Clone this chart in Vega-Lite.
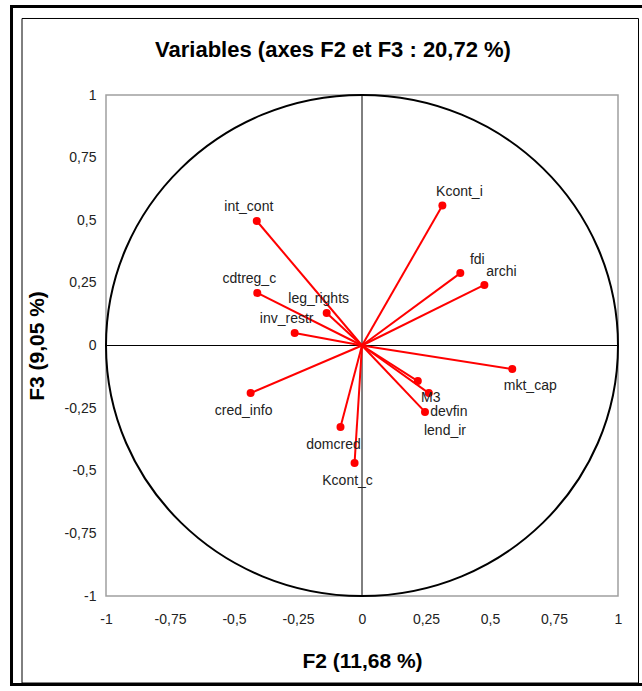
{
  "$schema": "https://vega.github.io/schema/vega-lite/v6.json",
  "width": 512,
  "height": 501,
  "autosize": {"type": "none"},
  "padding": {"left": 106, "top": 95, "right": 24, "bottom": 95},
  "background": "white",
  "title": {
    "text": "Variables (axes F2 et F3 : 20,72 %)",
    "font": "Liberation Sans",
    "fontSize": 22,
    "fontWeight": "bold",
    "color": "black",
    "anchor": "middle",
    "frame": "group",
    "dx": -29,
    "offset": -61
  },
  "config": {
    "view": {"stroke": "#a0a0a0", "strokeWidth": 1.5},
    "axis": {
      "domain": false,
      "ticks": false,
      "grid": false,
      "labelFont": "Liberation Sans",
      "labelFontSize": 14,
      "labelColor": "#222",
      "labelFlush": false,
      "labelOverlap": false,
      "labelBound": false,
      "titleFont": "Liberation Sans",
      "titleFontSize": 21,
      "titleFontWeight": "bold",
      "titleColor": "black"
    }
  },
  "datasets": {
    "vars": [
      {"name": "Kcont_i", "x": 0.314, "y": 0.559},
      {"name": "fdi", "x": 0.384, "y": 0.289},
      {"name": "archi", "x": 0.478, "y": 0.242},
      {"name": "mkt_cap", "x": 0.587, "y": -0.094},
      {"name": "M3", "x": 0.218, "y": -0.142},
      {"name": "devfin", "x": 0.261, "y": -0.19},
      {"name": "lend_ir", "x": 0.246, "y": -0.265},
      {"name": "int_cont", "x": -0.411, "y": 0.497},
      {"name": "cdtreg_c", "x": -0.409, "y": 0.21},
      {"name": "leg_rights", "x": -0.138, "y": 0.13},
      {"name": "inv_restr", "x": -0.263, "y": 0.05},
      {"name": "cred_info", "x": -0.435, "y": -0.19},
      {"name": "domcred", "x": -0.084, "y": -0.325},
      {"name": "Kcont_c", "x": -0.029, "y": -0.469}
    ],
    "ticks": [
      {"v": -0.75}, {"v": -0.5}, {"v": -0.25}, {"v": 0.25}, {"v": 0.5}, {"v": 0.75}
    ]
  },
  "data": {"name": "vars"},
  "encoding": {
    "x": {"field": "x", "type": "quantitative", "scale": {"domain": [-1, 1], "nice": false, "zero": false},
      "axis": {"values": [-1, -0.75, -0.5, -0.25, 0, 0.25, 0.5, 0.75, 1], "labelExpr": "replace(toString(datum.value), '.', ',')", "labelPadding": 16, "title": "F2 (11,68 %)", "titlePadding": 24}},
    "y": {"field": "y", "type": "quantitative", "scale": {"domain": [-1, 1], "nice": false, "zero": false},
      "axis": {"values": [-1, -0.75, -0.5, -0.25, 0, 0.25, 0.5, 0.75, 1], "labelExpr": "replace(toString(datum.value), '.', ',')", "labelPadding": 10, "title": "F3 (9,05 %)", "titlePadding": 17}}
  },
  "layer": [
    {
      "transform": [{"filter": "datum.name == 'Kcont_i'"}],
      "mark": {
        "type": "point",
        "filled": false,
        "stroke": "black",
        "strokeWidth": 3,
        "opacity": 1,
        "size": 401322,
        "clip": false,
        "shape": "M-1,-1.0702L1,-1.0702L1,1.0702L-1,1.0702Z"
      },
      "encoding": {
        "x": {"datum": -0.1318, "type": "quantitative"},
        "y": {"datum": 0, "type": "quantitative"}
      }
    },
    {
      "transform": [{"filter": "datum.name == 'Kcont_i'"}],
      "mark": {
        "type": "point",
        "filled": false,
        "stroke": "black",
        "strokeWidth": 1,
        "opacity": 1,
        "size": 380072,
        "clip": false,
        "shape": "M-1,-1.0779L1,-1.0779L1,1.0779L-1,1.0779Z"
      },
      "encoding": {
        "x": {"datum": -0.124, "type": "quantitative"},
        "y": {"datum": -0.021, "type": "quantitative"}
      }
    },
    {
      "transform": [{"filter": "datum.name == 'Kcont_i'"}],
      "mark": {
        "type": "point",
        "filled": false,
        "stroke": "black",
        "strokeWidth": 2,
        "opacity": 1,
        "size": 262144,
        "shape": "M1,0C1,0.5404,0.5523,0.9785,0,0.9785C-0.5523,0.9785,-1,0.5404,-1,0C-1,-0.5404,-0.5523,-0.9785,0,-0.9785C0.5523,-0.9785,1,-0.5404,1,0Z"
      },
      "encoding": {
        "x": {"datum": 0, "type": "quantitative"},
        "y": {"datum": 0, "type": "quantitative"}
      }
    },
    {
      "transform": [{"filter": "datum.name == 'Kcont_i'"}],
      "mark": {"type": "rule", "color": "black", "strokeWidth": 1},
      "encoding": {
        "x": null,
        "y": {"datum": 0, "type": "quantitative"}
      }
    },
    {
      "transform": [{"filter": "datum.name == 'Kcont_i'"}],
      "mark": {"type": "rule", "color": "black", "strokeWidth": 1},
      "encoding": {
        "x": {"datum": 0, "type": "quantitative"},
        "y": null
      }
    },
    {
      "data": {"name": "ticks"},
      "mark": {"type": "tick", "orient": "vertical", "color": "black", "size": 9, "thickness": 1, "opacity": 1},
      "encoding": {
        "x": {"field": "v", "type": "quantitative"},
        "y": {"datum": 0, "type": "quantitative"}
      }
    },
    {
      "data": {"name": "ticks"},
      "mark": {"type": "tick", "orient": "horizontal", "color": "black", "size": 9, "thickness": 1, "opacity": 1},
      "encoding": {
        "y": {"field": "v", "type": "quantitative"},
        "x": {"datum": 0, "type": "quantitative"}
      }
    },
    {
      "mark": {"type": "rule", "color": "#ff0000", "strokeWidth": 2},
      "encoding": {
        "x2": {"datum": 0},
        "y2": {"datum": 0}
      }
    },
    {
      "mark": {"type": "point", "filled": true, "color": "#ff0000", "size": 64, "opacity": 1}
    },
    {
      "transform": [{"filter": "datum.x > 0 && datum.y > 0"}],
      "mark": {"type": "text", "font": "Liberation Sans", "fontSize": 14, "color": "#222", "align": "center", "baseline": "middle", "dx": 17, "dy": -13},
      "encoding": {"text": {"field": "name"}}
    },
    {
      "transform": [{"filter": "datum.x < 0 && datum.y > 0"}],
      "mark": {"type": "text", "font": "Liberation Sans", "fontSize": 14, "color": "#222", "align": "center", "baseline": "middle", "dx": -8, "dy": -14},
      "encoding": {"text": {"field": "name"}}
    },
    {
      "transform": [{"filter": "datum.x > 0 && datum.y < 0 && datum.name != 'M3' && datum.name != 'mkt_cap'"}],
      "mark": {"type": "text", "font": "Liberation Sans", "fontSize": 14, "color": "#222", "align": "center", "baseline": "middle", "dx": 20, "dy": 19},
      "encoding": {"text": {"field": "name"}}
    },
    {
      "transform": [{"filter": "datum.name == 'mkt_cap'"}],
      "mark": {"type": "text", "font": "Liberation Sans", "fontSize": 14, "color": "#222", "align": "center", "baseline": "middle", "dx": 18, "dy": 17},
      "encoding": {"text": {"field": "name"}}
    },
    {
      "transform": [{"filter": "datum.name == 'M3'"}],
      "mark": {"type": "text", "font": "Liberation Sans", "fontSize": 14, "color": "#222", "align": "center", "baseline": "middle", "dx": 13, "dy": 17},
      "encoding": {"text": {"field": "name"}}
    },
    {
      "transform": [{"filter": "datum.x < 0 && datum.y < 0"}],
      "mark": {"type": "text", "font": "Liberation Sans", "fontSize": 14, "color": "#222", "align": "center", "baseline": "middle", "dx": -7, "dy": 18},
      "encoding": {"text": {"field": "name"}}
    }
  ]
}
